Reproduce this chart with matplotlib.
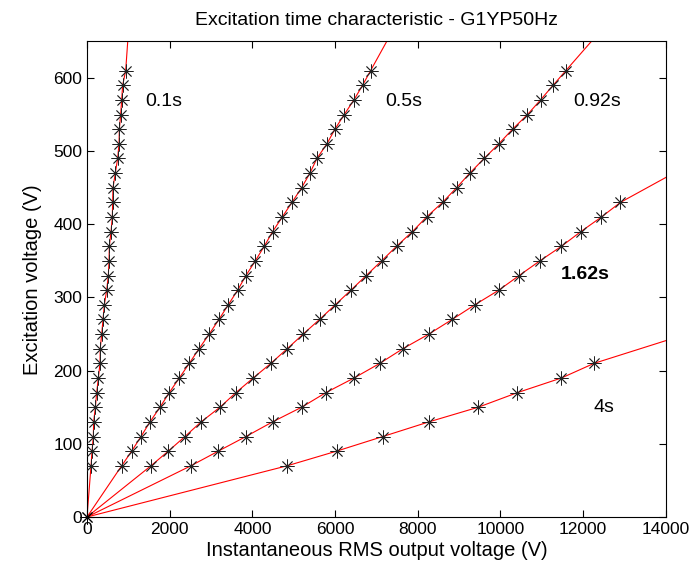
import matplotlib.pyplot as plt
import numpy as np

plt.rcParams['font.family'] = ['Liberation Sans', 'DejaVu Sans']

# excitation voltage levels (V) where points were measured
exc_v = [70, 90, 110, 130, 150, 170, 190, 210, 230, 250, 270, 290, 310, 330,
         350, 370, 390, 410, 430, 450, 470, 490, 510, 530, 550, 570, 590, 610]

# instantaneous RMS output voltage (V) for each excitation time
rms_01 = [97, 121, 153, 160, 202, 234, 274, 314, 320, 355, 387, 419, 476, 515,
          532, 540, 580, 612, 620, 628, 685, 741, 774, 782, 814, 838, 862, 935]
rms_05 = [838, 1080, 1306, 1523, 1765, 1990, 2232, 2474, 2710, 2957, 3191, 3417,
          3643, 3844, 4070, 4287, 4489, 4723, 4957, 5191, 5392, 5561, 5803, 5996,
          6222, 6456, 6665, 6859]
rms_092 = [1547, 1966, 2369, 2760, 3216, 3602, 4021, 4449, 4843, 5230, 5625, 6005,
           6383, 6754, 7125, 7488, 7870, 8213, 8600, 8939, 9260, 9606, 9961,
           10293, 10655, 10970, 11274, 11581]
rms_162 = [2514, 3175, 3844, 4489, 5191, 5779, 6460, 7084, 7640, 8270, 8833, 9381,
           9961, 10453, 10953, 11477, 11944, 12444, 12904]
rms_4 = [4843, 6037, 7157, 8270, 9462, 10413, 11477, 12266]

# where each fitted line leaves the axes (x, y)
line_end = {'0.1s': (985, 650), '0.5s': (7250, 650), '0.92s': (12200, 650),
            '1.62s': (14000, 464), '4s': (14000, 241)}

series = [('0.1s', rms_01), ('0.5s', rms_05), ('0.92s', rms_092),
          ('1.62s', rms_162), ('4s', rms_4)]

# label positions
label_pos = {'0.1s': (1850, 568), '0.5s': (7650, 568), '0.92s': (12350, 568),
             '1.62s': (12050, 331), '4s': (12500, 149)}

fig = plt.figure(figsize=(6.89, 5.79), dpi=100)
ax = fig.add_axes([0.1263, 0.1071, 0.84, 0.8214])

for name, rms in series:
    ex, ey = line_end[name]
    xs = [0] + rms + [ex]
    ys = [0] + exc_v[:len(rms)] + [ey]
    ax.plot(xs, ys, color='red', lw=0.8, zorder=2)
    ax.plot(rms, exc_v[:len(rms)], ls='none', marker=(8, 2, 0), ms=10,
            mec='#222222', mew=0.6, zorder=3)
    lx, ly = label_pos[name]
    ax.text(lx, ly, name, fontsize=14, ha='center', va='center',
            fontweight='bold' if name == '1.62s' else 'normal')

ax.plot([0], [0], ls='none', marker=(8, 2, 0), ms=10, mec='black', mew=0.7,
        zorder=3, clip_on=False)

ax.set_xlim(0, 14000)
ax.set_ylim(0, 650)
ax.set_xticks([0, 2000, 4000, 6000, 8000, 10000, 12000, 14000])
ax.set_yticks([0, 100, 200, 300, 400, 500, 600])
ax.tick_params(direction='in', top=True, right=True, labelsize=12.5, length=5)
for s in ax.spines.values():
    s.set_linewidth(0.8)

ax.set_title('Excitation time characteristic - G1YP50Hz', fontsize=14, pad=12)
ax.set_xlabel('Instantaneous RMS output voltage (V)', fontsize=14.5, labelpad=3)
ax.set_ylabel('Excitation voltage (V)', fontsize=14.5, labelpad=8)

plt.savefig('out.png', dpi=100)
